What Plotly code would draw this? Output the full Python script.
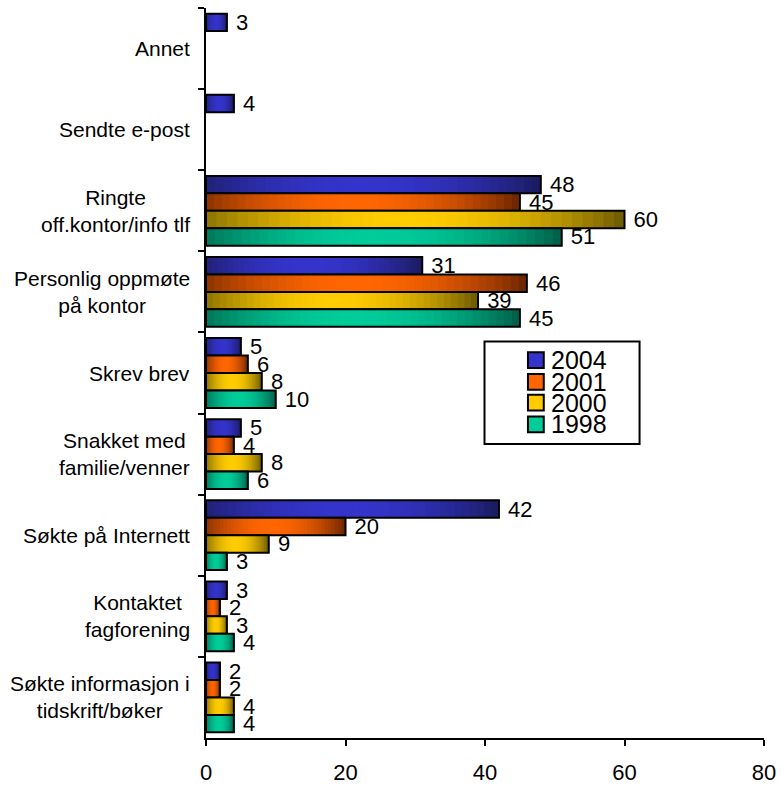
import math
import plotly.graph_objects as go

# ---------------- data ----------------
categories = ["Annet", "Sendte e-post", "Ringte off.kontor/info tlf",
              "Personlig oppmøte på kontor", "Skrev brev",
              "Snakket med familie/venner", "Søkte på Internett",
              "Kontaktet fagforening", "Søkte informasjon i tidskrift/bøker"]
category_labels = ["Annet", "Sendte e-post", "Ringte<br>off.kontor/info tlf",
                   "Personlig oppmøte<br>på kontor", "Skrev brev",
                   "Snakket med<br>familie/venner", "Søkte på Internett",
                   "Kontaktet<br>fagforening", "Søkte informasjon i<br>tidskrift/bøker"]
series_names = ["2004", "2001", "2000", "1998"]
values_2004 = [3, 4, 48, 31, 5, 5, 42, 3, 2]
values_2001 = [None, None, 45, 46, 6, 4, 20, 2, 2]
values_2000 = [None, None, 60, 39, 8, 8, 9, 3, 4]
values_1998 = [None, None, 51, 45, 10, 6, 3, 4, 4]
x_ticks = [0, 20, 40, 60, 80]

series_values = [values_2004, values_2001, values_2000, values_1998]

# ---------------- style ----------------
FONT = "Liberation Sans, Arial, sans-serif"
dark_bright = [
    ((0x1a, 0x1a, 0x5a), (0x34, 0x34, 0xcc)),
    ((0x66, 0x22, 0x00), (0xff, 0x66, 0x00)),
    ((0x66, 0x55, 0x00), (0xff, 0xcc, 0x00)),
    ((0x00, 0x5a, 0x44), (0x00, 0xcc, 0x99)),
]
N_SEG = 40


def grad_color(pair, t):
    dark, bright = pair
    d = abs(t - 0.47) / 0.53
    f = math.cos(min(d, 1.0) * math.pi / 2) ** 0.8
    c = [int(round(dk + (br - dk) * f)) for dk, br in zip(dark, bright)]
    return "rgb(%d,%d,%d)" % tuple(c)


fig = go.Figure()

for s, (name, vals) in enumerate(zip(series_names, series_values)):
    pair = dark_bright[s]
    # gradient segments: each covers [v*i/N, v]; later ones paint over
    for i in range(N_SEG):
        t = (i + 0.5) / N_SEG
        fig.add_trace(go.Bar(
            y=categories, x=[None if v is None else v * (1 - i / N_SEG) for v in vals],
            base=[None if v is None else v * i / N_SEG for v in vals],
            orientation="h", offsetgroup=name,
            marker=dict(color=grad_color(pair, t), line=dict(width=0)),
            showlegend=False, hoverinfo="skip",
        ))
    # outline + labels
    fig.add_trace(go.Bar(
        y=categories, x=vals, base=[None if v is None else 0 for v in vals],
        orientation="h", offsetgroup=name, name=name,
        marker=dict(color="rgba(0,0,0,0)", line=dict(color="black", width=2)),
        text=[None if v is None else " %d" % v for v in vals],
        textposition="outside", constraintext="none", cliponaxis=False,
        textfont=dict(family=FONT, size=22, color="black"),
        showlegend=False,
    ))

# category labels (centered lines, right-aligned block)
annotations = []
for cat, lab in zip(categories, category_labels):
    annotations.append(dict(
        x=0, xref="paper", y=cat, yref="y", text=lab, showarrow=False,
        xanchor="right", yanchor="middle", align="center", xshift=-14,
        font=dict(family=FONT, size=21, color="black"),
    ))

# manual legend (pixel coordinates -> paper coordinates)
shapes = []
plot_l, plot_r, plot_t, plot_b = 206, 771, 8, 748


def px(xp):
    return (xp - plot_l) / (plot_r - plot_l)


def py(yp):
    return (plot_b - yp) / (plot_b - plot_t)


shapes.append(dict(type="rect", xref="paper", yref="paper",
                   x0=px(488), x1=px(645), y0=py(450), y1=py(346),
                   line=dict(color="black", width=2), fillcolor="white", layer="above"))
row_y = [365, 387, 408, 430]
for s, name in enumerate(series_names):
    cy = row_y[s]
    shapes.append(dict(type="rect", xref="paper", yref="paper",
                       x0=px(532), x1=px(548), y0=py(cy + 8), y1=py(cy - 8),
                       line=dict(color="black", width=2),
                       fillcolor=grad_color(dark_bright[s], 0.47), layer="above"))
    annotations.append(dict(
        x=px(553), xref="paper", y=py(cy), yref="paper", text=name, showarrow=False,
        xanchor="left", yanchor="middle",
        font=dict(family=FONT, size=25, color="black"),
    ))

fig.update_layout(
    width=784, height=793,
    margin=dict(l=plot_l, r=784 - plot_r, t=plot_t, b=793 - plot_b),
    paper_bgcolor="white", plot_bgcolor="white",
    barmode="group", bargap=0.14, bargroupgap=0,
    showlegend=False,
    annotations=annotations, shapes=shapes,
    xaxis=dict(range=[0, 80], tickvals=x_ticks, showgrid=False, zeroline=False,
               showline=True, linecolor="black", linewidth=2,
               ticks="outside", ticklen=6, tickwidth=2, tickcolor="black",
               ticklabelstandoff=8,
               tickfont=dict(family=FONT, size=22, color="black")),
    yaxis=dict(type="category", categoryorder="array", categoryarray=categories,
               autorange="reversed", showgrid=False, zeroline=False,
               showline=True, linecolor="black", linewidth=2,
               ticks="outside", tickson="boundaries", ticklen=6, tickwidth=2,
               tickcolor="black", showticklabels=False),
)

fig.write_html(
    "out.html",
    config={"displayModeBar": False},
    post_script="document.body.style.margin='0';document.body.style.overflow='hidden';",
)
